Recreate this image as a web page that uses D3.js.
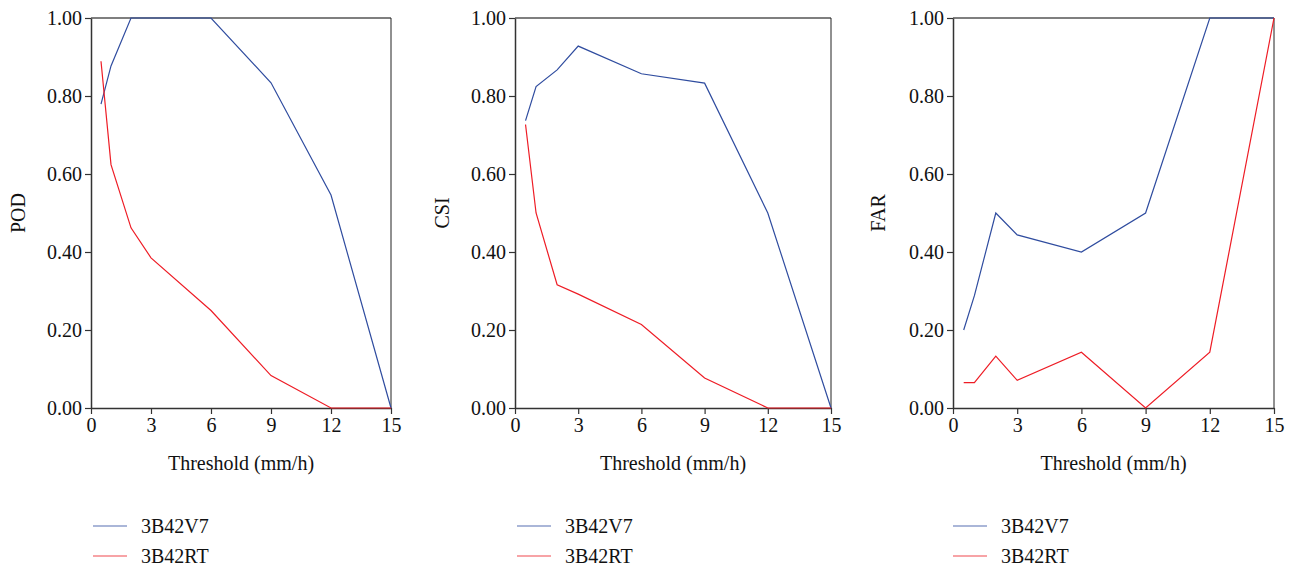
<!DOCTYPE html>
<html><head><meta charset="utf-8">
<script src="https://cdn.jsdelivr.net/npm/d3@7"></script>
<style>body{margin:0;background:#fff;} svg{display:block;}</style>
</head><body>
<svg id="c" width="1298" height="569"></svg>
<script>
const thresholds = [0.5, 1, 2, 3, 6, 9, 12, 15];
const xTicks = [0, 3, 6, 9, 12, 15];
const yTicks = [0, 0.2, 0.4, 0.6, 0.8, 1.0];
const seriesNames = ["3B42V7", "3B42RT"];
const seriesColors = ["#2f4c9f", "#ee1c25"];
const metricNames = ["POD", "CSI", "FAR"];
const podV7 = [0.779, 0.877, 1.0, 1.0, 1.0, 0.834, 0.546, 0.0];
const podRT = [0.889, 0.624, 0.462, 0.385, 0.25, 0.083, 0.0, 0.0];
const csiV7 = [0.737, 0.824, 0.867, 0.928, 0.857, 0.833, 0.5, 0.0];
const csiRT = [0.727, 0.5, 0.316, 0.292, 0.214, 0.077, 0.0, 0.0];
const farV7 = [0.2, 0.288, 0.5, 0.444, 0.4, 0.5, 1.0, 1.0];
const farRT = [0.065, 0.065, 0.133, 0.071, 0.143, 0.0, 0.143, 1.0];

const panels = [
  {name: metricNames[0], data: [podV7, podRT], left: 91, right: 391, titleX: 18, legX: 93},
  {name: metricNames[1], data: [csiV7, csiRT], left: 515, right: 831, titleX: 442, legX: 517},
  {name: metricNames[2], data: [farV7, farRT], left: 953, right: 1274, titleX: 878, legX: 953}
];
const plotTop = 18, plotBottom = 408;
const FONT = '"Liberation Serif", "Times New Roman", serif';
const svg = d3.select("#c");
function styleText(sel, size) {
  return sel.style("font-family", FONT).style("font-size", size + "px").style("fill", "#111");
}

panels.forEach(p => {
  const x = d3.scaleLinear().domain([0, 15]).range([p.left, p.right]);
  const y = d3.scaleLinear().domain([0, 1]).range([plotBottom, plotTop]);
  const g = svg.append("g");
  g.append("line").attr("x1", p.left).attr("x2", p.right).attr("y1", plotTop).attr("y2", plotTop)
    .attr("stroke", "#555").attr("stroke-width", 1.5);
  g.append("line").attr("x1", p.right).attr("x2", p.right).attr("y1", plotTop).attr("y2", plotBottom)
    .attr("stroke", "#222").attr("stroke-width", 1);
  const ya = g.append("g").attr("transform", `translate(${p.left},0)`)
    .call(d3.axisLeft(y).tickValues(yTicks).tickFormat(d3.format(".2f")).tickSize(6).tickSizeOuter(0));
  const xa = g.append("g").attr("transform", `translate(0,${plotBottom})`)
    .call(d3.axisBottom(x).tickValues(xTicks).tickFormat(d3.format("d")).tickSize(6).tickSizeOuter(0));
  [ya, xa].forEach(a => {
    a.select(".domain").attr("stroke", "#333").attr("stroke-width", 1.5);
    a.selectAll(".tick line").attr("stroke", "#333").attr("stroke-width", 1.2);
    styleText(a.selectAll("text"), 20);
  });
  ya.selectAll("text").attr("x", -9);
  xa.selectAll("text").attr("y", 10);
  const line = d3.line().x((d, i) => x(thresholds[i])).y(d => y(d));
  p.data.forEach((vals, si) => {
    g.append("path").datum(vals).attr("d", line).attr("fill", "none")
      .attr("stroke", seriesColors[si]).attr("stroke-width", 1.2);
  });
  styleText(g.append("text").attr("transform", `translate(${p.titleX + 7},${(plotTop + plotBottom) / 2}) rotate(-90)`)
    .attr("text-anchor", "middle"), 20).text(p.name);
  styleText(g.append("text").attr("x", (p.left + p.right) / 2).attr("y", 470).attr("text-anchor", "middle"), 20)
    .text("Threshold (mm/h)");
  seriesNames.forEach((s, si) => {
    const ly = 526 + si * 30;
    g.append("line").attr("x1", p.legX).attr("x2", p.legX + 34).attr("y1", ly).attr("y2", ly)
      .attr("stroke", seriesColors[si]).attr("stroke-width", 1.2).attr("opacity", 0.8);
    styleText(g.append("text").attr("x", p.legX + 48).attr("y", ly + 7), 20).text(s);
  });
});
</script>
</body></html>
